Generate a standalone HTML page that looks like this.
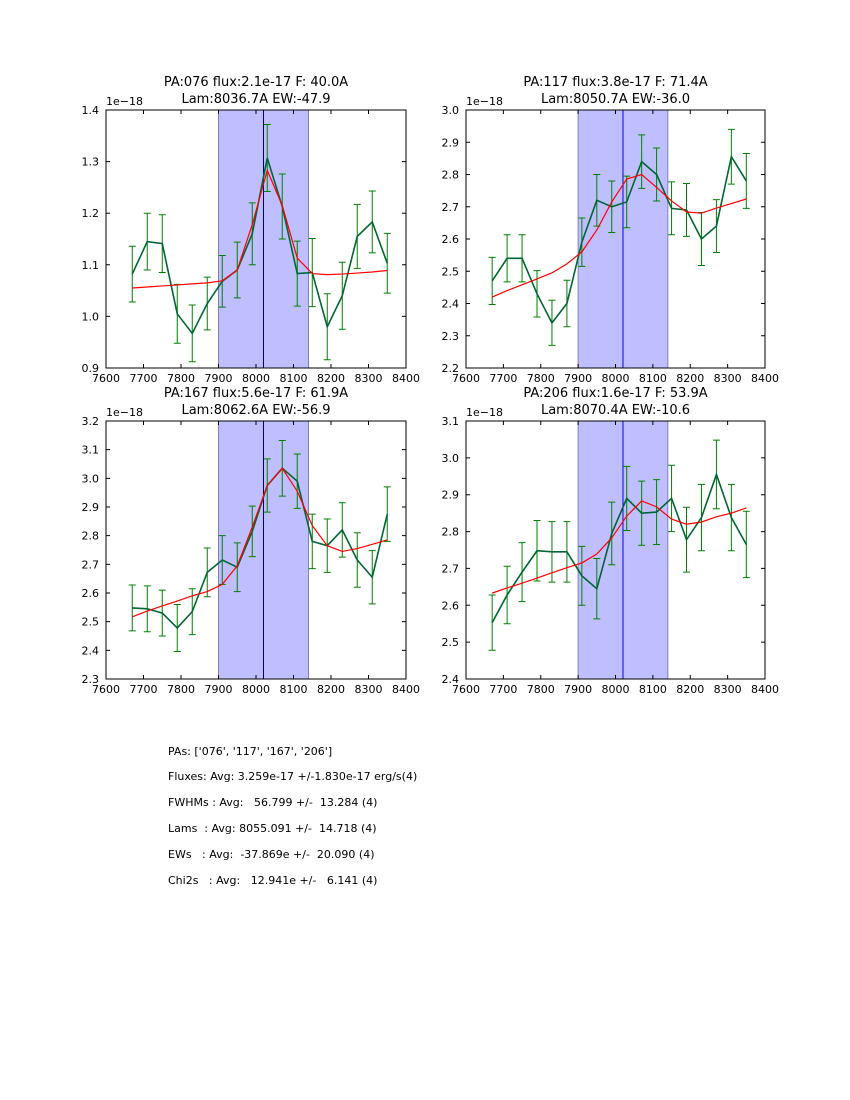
<!DOCTYPE html>
<html><head><meta charset="utf-8">
<style>
body{margin:0;background:#fff;}
svg text{font-family:"DejaVu Sans","Liberation Sans",sans-serif;}
.info{position:absolute;left:168px;font-family:"DejaVu Sans","Liberation Sans",sans-serif;font-size:11px;color:#000;white-space:pre;}
</style></head>
<body>
<div style="position:relative;width:850px;height:1100px;">
<svg id="fig" width="850" height="1100" style="position:absolute;left:0;top:0"></svg>
<div class="info" style="top:745px">PAs: ['076', '117', '167', '206']</div>
<div class="info" style="top:770px">Fluxes: Avg: 3.259e-17 +/-1.830e-17 erg/s(4)</div>
<div class="info" style="top:796px">FWHMs : Avg:   56.799 +/-  13.284 (4)</div>
<div class="info" style="top:822px">Lams  : Avg: 8055.091 +/-  14.718 (4)</div>
<div class="info" style="top:848px">EWs   : Avg:  -37.869e +/-  20.090 (4)</div>
<div class="info" style="top:874px">Chi2s   : Avg:   12.941e +/-   6.141 (4)</div>
</div>
<script>
const wavelengths = [7670,7710,7750,7790,7830,7870,7910,7950,7990,8030,8070,8110,8150,8190,8230,8270,8310,8350];
const xTicks = [7600,7700,7800,7900,8000,8100,8200,8300,8400];

const flux076 = [1.082,1.145,1.141,1.005,0.967,1.025,1.068,1.090,1.160,1.307,1.213,1.083,1.085,0.980,1.040,1.155,1.183,1.103];
const err076  = [0.054,0.055,0.056,0.057,0.055,0.051,0.050,0.054,0.060,0.065,0.063,0.063,0.066,0.064,0.065,0.062,0.060,0.058];
const model076 = [1.055,1.057,1.059,1.061,1.063,1.065,1.069,1.090,1.178,1.283,1.215,1.113,1.083,1.081,1.082,1.084,1.086,1.089];
const yTicks076 = [0.9,1.0,1.1,1.2,1.3,1.4];

const flux117 = [2.470,2.540,2.540,2.430,2.340,2.400,2.590,2.720,2.700,2.715,2.840,2.800,2.695,2.690,2.600,2.640,2.855,2.780];
const err117  = [0.073,0.073,0.073,0.072,0.070,0.072,0.075,0.080,0.080,0.080,0.083,0.082,0.082,0.082,0.082,0.082,0.085,0.085];
const model117 = [2.420,2.440,2.458,2.476,2.495,2.523,2.560,2.628,2.715,2.786,2.800,2.760,2.718,2.684,2.680,2.696,2.710,2.724];
const yTicks117 = [2.2,2.3,2.4,2.5,2.6,2.7,2.8,2.9,3.0];

const flux167 = [2.548,2.545,2.530,2.478,2.535,2.672,2.715,2.690,2.815,2.975,3.035,2.990,2.780,2.765,2.820,2.715,2.655,2.875];
const err167  = [0.080,0.080,0.080,0.082,0.080,0.085,0.085,0.085,0.088,0.093,0.097,0.095,0.095,0.093,0.095,0.095,0.093,0.095];
const model167 = [2.517,2.537,2.555,2.572,2.590,2.605,2.630,2.695,2.830,2.975,3.035,2.955,2.835,2.765,2.745,2.755,2.770,2.785];
const yTicks167 = [2.3,2.4,2.5,2.6,2.7,2.8,2.9,3.0,3.1,3.2];

const flux206 = [2.553,2.628,2.690,2.748,2.745,2.745,2.680,2.645,2.795,2.890,2.850,2.853,2.890,2.778,2.838,2.955,2.838,2.765];
const err206  = [0.075,0.078,0.080,0.082,0.082,0.082,0.080,0.082,0.085,0.087,0.087,0.088,0.090,0.088,0.090,0.093,0.090,0.090];
const model206 = [2.633,2.647,2.660,2.674,2.688,2.702,2.715,2.739,2.783,2.842,2.883,2.867,2.834,2.820,2.826,2.840,2.850,2.864];
const yTicks206 = [2.4,2.5,2.6,2.7,2.8,2.9,3.0,3.1];

const titles = [
 ["PA:076 flux:2.1e-17 F: 40.0A","Lam:8036.7A EW:-47.9"],
 ["PA:117 flux:3.8e-17 F: 71.4A","Lam:8050.7A EW:-36.0"],
 ["PA:167 flux:5.6e-17 F: 61.9A","Lam:8062.6A EW:-56.9"],
 ["PA:206 flux:1.6e-17 F: 53.9A","Lam:8070.4A EW:-10.6"]
];
const lineCenters = [8020,8020,8020,8020];

const NS = "http://www.w3.org/2000/svg";
const svg = document.getElementById('fig');
function mk(tag, attrs, parent){
  const e = document.createElementNS(NS, tag);
  for (const k in attrs) e.setAttribute(k, attrs[k]);
  (parent||svg).appendChild(e);
  return e;
}

const panels = [
 {id:'076', L:106, T:110, W:300, H:258, f:flux076, e:err076, m:model076, yt:yTicks076, lc:'#00007f'},
 {id:'117', L:466, T:110, W:299, H:258, f:flux117, e:err117, m:model117, yt:yTicks117, lc:'#0000ff'},
 {id:'167', L:106, T:421, W:300, H:258, f:flux167, e:err167, m:model167, yt:yTicks167, lc:'#00007f'},
 {id:'206', L:466, T:421, W:299, H:258, f:flux206, e:err206, m:model206, yt:yTicks206, lc:'#0000ff'}
];

panels.forEach((p, i) => {
  const g = mk('g', {});
  
  
  const y0 = p.yt[0], y1 = p.yt[p.yt.length-1];
  const xs = v => p.L + (v - xTicks[0]) / (xTicks[xTicks.length-1] - xTicks[0]) * p.W;
  const ys = v => p.T + p.H - (v - y0) / (y1 - y0) * p.H;

  const span = mk('rect', {x:xs(7900), y:p.T, width:xs(8140)-xs(7900), height:p.H, fill:'#bfbfff', stroke:'#7f7fbf', 'stroke-width':1}, g);
  
  
  const vl = mk('line', {x1:xs(lineCenters[i]), x2:xs(lineCenters[i]), y1:p.T, y2:p.T+p.H, stroke:p.lc, 'stroke-width':1}, g);
  
  

  // error bars
  wavelengths.forEach((w, k) => {
    const x = xs(w), ya = ys(p.f[k] + p.e[k]), yb = ys(p.f[k] - p.e[k]);
    const eb = mk('path', {d:`M${x},${ya}V${yb}M${x-3.5},${ya}H${x+3.5}M${x-3.5},${yb}H${x+3.5}`, stroke:'#008000', 'stroke-width':1, fill:'none'}, g);
    
    
  });
  const dpts = wavelengths.map((w,k)=>xs(w)+','+ys(p.f[k])).join(' ');
  const dl = mk('polyline', {points:dpts, fill:'none', stroke:'#006633', 'stroke-width':1.6}, g);
  
  
  const mpts = wavelengths.map((w,k)=>xs(w)+','+ys(p.m[k])).join(' ');
  const ml = mk('polyline', {points:mpts, fill:'none', stroke:'#ff0000', 'stroke-width':1.2}, g);
  
  

  const fr = mk('rect', {x:p.L, y:p.T, width:p.W, height:p.H, fill:'none', stroke:'#000', 'stroke-width':1}, g);
  
  

  xTicks.forEach(t => {
    const x = xs(t);
    mk('path', {d:`M${x},${p.T+p.H}v-4M${x},${p.T}v4`, stroke:'#000', 'stroke-width':1}, g);
    const tx = mk('text', {x:x, y:p.T+p.H+14, 'font-size':11, 'text-anchor':'middle'}, g);
    tx.textContent = t;
    
    
  });
  p.yt.forEach(t => {
    const y = ys(t);
    mk('path', {d:`M${p.L},${y}h4M${p.L+p.W},${y}h-4`, stroke:'#000', 'stroke-width':1}, g);
    const ty = mk('text', {x:p.L-7, y:y+4, 'font-size':11, 'text-anchor':'end'}, g);
    ty.textContent = t.toFixed(1);
    
    
  });
  const off = mk('text', {x:p.L, y:p.T-5, 'font-size':11}, g);
  off.textContent = '1e\u221218';
  
  
  const cx = p.L + p.W/2;
  const t1 = mk('text', {x:cx, y:p.T-24, 'font-size':13, 'text-anchor':'middle'}, g);
  t1.textContent = titles[i][0];
  
  
  const t2 = mk('text', {x:cx, y:p.T-7, 'font-size':13, 'text-anchor':'middle'}, g);
  t2.textContent = titles[i][1];
  
  
});
</script>
</body></html>
